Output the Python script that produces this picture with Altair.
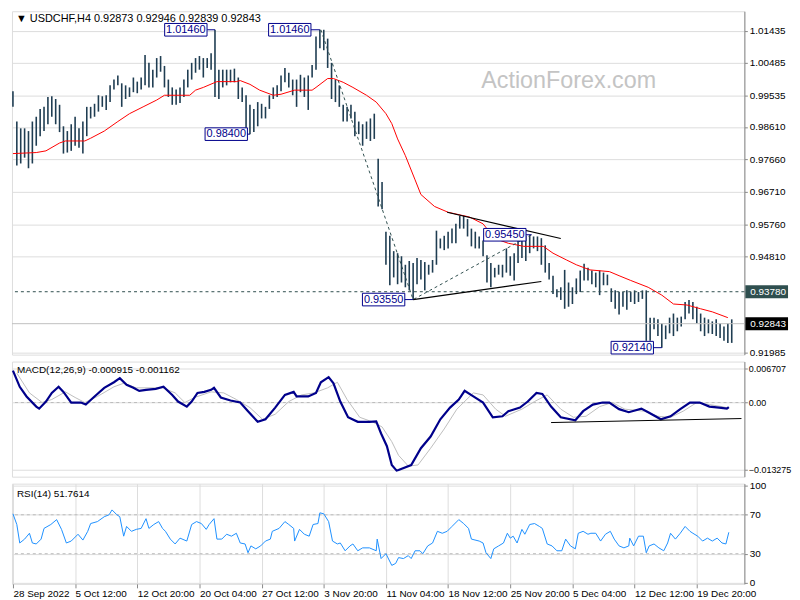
import altair as alt
import pandas as pd

# ---------------- data ----------------
# one column = two H4 bars; prices in 1e-4 units
HIGH = [9966, 9877, 9857, 9857, 9849, 9877, 9891, 9914, 9920, 9949,
        9951, 9943, 9926, 9863, 9849, 9869, 9891, 9857, 9877, 9920,
        9920, 9929, 9954, 9951, 9954, 9983, 10000, 10012, 9989, 9983,
        9977, 10006, 9994, 10006, 10072, 10049, 10029, 10063, 10069, 10040,
        10000, 9977, 9971, 9977, 10000, 10029, 10049, 10063, 10069, 10063,
        10063, 10077, 10146, 10029, 10029, 10029, 10029, 10032, 10006, 9977,
        9954, 9926, 9914, 9934, 9929, 9920, 9954, 9977, 9983, 10012,
        10034, 10020, 10000, 10000, 10014, 10006, 10012, 10043, 10126, 10146,
        10146, 10120, 10049, 10000, 9983, 9926, 9920, 9926, 9906, 9877,
        9869, 9877, 9886, 9900, 9768, 9700, 9554, 9542, 9497, 9491,
        9482, 9457, 9468, 9462, 9477, 9471, 9465, 9457, 9471, 9557,
        9534, 9542, 9554, 9563, 9577, 9600, 9600, 9591, 9563, 9554,
        9540, 9528, 9485, 9462, 9448, 9457, 9457, 9505, 9482, 9491,
        9528, 9542, 9542, 9545, 9540, 9540, 9535, 9514, 9462, 9425,
        9385, 9391, 9442, 9405, 9391, 9417, 9440, 9460, 9448, 9440,
        9434, 9440, 9434, 9428, 9388, 9382, 9377, 9377, 9382, 9377,
        9382, 9377, 9382, 9382, 9302, 9302, 9297, 9285, 9279, 9302,
        9314, 9302, 9305, 9348, 9354, 9348, 9334, 9314, 9302, 9297,
        9291, 9297, 9285, 9276, 9285, 9297]
LOW = [9920, 9748, 9754, 9771, 9740, 9754, 9806, 9834, 9849, 9869,
       9891, 9869, 9846, 9783, 9786, 9791, 9806, 9800, 9783, 9834,
       9886, 9891, 9906, 9920, 9911, 9934, 9971, 9983, 9920, 9943,
       9949, 9963, 9960, 9971, 9983, 9977, 9977, 10006, 10023, 9977,
       9949, 9926, 9926, 9931, 9949, 9977, 10000, 10020, 10029, 10006,
       10034, 10029, 9949, 9943, 9977, 9983, 9992, 9992, 9943, 9934,
       9857, 9840, 9846, 9863, 9886, 9886, 9914, 9943, 9949, 9966,
       9992, 9977, 9954, 9920, 9963, 9949, 9911, 10006, 10029, 10092,
       10086, 10034, 9943, 9934, 9920, 9877, 9877, 9886, 9834, 9840,
       9806, 9826, 9820, 9826, 9628, 9620, 9457, 9397, 9420, 9400,
       9405, 9391, 9382, 9355, 9400, 9414, 9382, 9428, 9434, 9457,
       9505, 9500, 9505, 9520, 9520, 9563, 9563, 9540, 9511, 9505,
       9505, 9482, 9405, 9391, 9420, 9428, 9420, 9434, 9425, 9411,
       9462, 9477, 9468, 9491, 9505, 9497, 9457, 9434, 9414, 9371,
       9362, 9354, 9328, 9334, 9342, 9371, 9377, 9411, 9411, 9400,
       9391, 9368, 9397, 9397, 9348, 9328, 9311, 9334, 9325, 9348,
       9342, 9348, 9357, 9234, 9234, 9268, 9248, 9214, 9239, 9256,
       9248, 9262, 9276, 9297, 9314, 9297, 9285, 9262, 9248, 9256,
       9254, 9248, 9242, 9234, 9228, 9228]

SMA_COL = [0, 6, 8.5, 12, 13.5, 18.5, 20, 23.5, 27, 30,
           33.5, 37, 39, 45.5, 47, 49, 52.5, 57.5, 58.5, 61,
           63.5, 67, 69, 72.5, 77, 78, 81, 82.5, 85, 87.5,
           91, 93.5, 96, 97.5, 99, 101, 103.5, 105, 108.5, 112,
           117.5, 121, 124, 127.5, 131.5, 136.5, 139, 142.5, 145, 148.5,
           153.5, 156, 159, 163.5, 167, 170, 173.5, 177, 180, 184]
SMA = [9783, 9786, 9791, 9814, 9820, 9820, 9828, 9849, 9877, 9900,
       9920, 9940, 9954, 9954, 9969, 9977, 9994, 9994, 9997, 9986,
       9969, 9954, 9957, 9969, 9969, 9977, 10003, 10003, 9992, 9977,
       9954, 9934, 9900, 9871, 9826, 9777, 9706, 9663, 9628, 9611,
       9597, 9577, 9534, 9520, 9511, 9511, 9491, 9471, 9457, 9442,
       9437, 9425, 9411, 9391, 9368, 9342, 9339, 9328, 9319, 9302]

# MACD values in 1e-4 units
MACD_COL = [0, 1.75, 3.5, 6, 6.75, 8.5, 10, 11.75, 13, 15,
            17.5, 18.75, 21, 23.5, 26, 27.5, 29.25, 31, 32.5, 34.25,
            36.75, 38.75, 41, 42.5, 44.75, 46, 47.5, 49.25, 51, 51.75,
            53.5, 56, 58.5, 60.5, 63, 65, 67.5, 70, 72.25, 73,
            76, 78, 79.25, 81.25, 82.5, 84.25, 86.25, 88.75, 91.75, 93.5,
            94.75, 96.25, 97.5, 98.75, 99.25, 102.5, 105, 107.5, 110, 112.5,
            114.75, 116.25, 118.5, 121, 123.5, 126, 127.5, 130.5, 132.5, 134.75,
            136.25, 138.5, 141, 144.75, 146.75, 149.25, 151.75, 153.5, 156, 158.5,
            161.75, 163.5, 166.75, 169.25, 171.75, 174.25, 176.75, 179.25, 181.75, 183.75,
            184.25]
MACD = [63, 31, 12, -8, -12, 2, 19, 31, 21, 0,
        0, -4, 12, 29, 40, 48, 35, 29, 23, 25,
        27, 31, 15, 2, -8, 2, 19, 21, 25, 29,
        10, 4, 0, -17, -38, -33, -10, 15, 21, 12,
        12, 19, 40, 50, 38, 2, -29, -38, -38, -37,
        -61, -86, -123, -134, -133, -123, -90, -67, -33, -10,
        6, 23, 12, 0, -29, -27, -17, -10, 2, 19,
        17, -8, -29, -35, -17, -4, 0, 0, -13, -19,
        -12, -19, -33, -27, -13, 0, 0, -8, -10, -12,
        -9]
SIG_COL = [1, 4.25, 7.5, 10, 13.5, 16, 18.5, 21.75, 26, 28.5,
           31.75, 38.5, 41.75, 44.25, 46.75, 51, 54.25, 57.5, 61, 64.25,
           67.5, 71, 74.25, 77.5, 81, 83.5, 86, 89.25, 92.5, 95,
           97.5, 99.25, 101.75, 104.25, 107.5, 111, 114.25, 118.5, 121, 124.25,
           126.75, 131, 134.25, 137.5, 141, 144.25, 147.5, 151, 154.25, 157.5,
           162.5, 166, 169.25, 172.5, 176, 179.25, 182.5, 184.25]
SIG = [58, 19, 0, 6, 21, 10, 0, 12, 31, 38,
       29, 29, 19, 0, 10, 21, 19, 6, -10, -33,
       -23, 2, 15, 19, 29, 40, 6, -29, -38, -48,
       -77, -104, -125, -123, -90, -52, -13, 19, 15, -13,
       -27, -13, 2, 15, -13, -29, -27, -8, 0, -13,
       -17, -27, -29, -17, 0, -4, -8, -11]

RSI_POINTS = [(0, 71), (1, 60), (1.75, 41), (3, 45), (4.25, 51), (5, 41), (6, 40), (7.25, 45), (8, 56), (9.75, 60),
              (11.25, 65), (12.5, 55), (13.75, 41), (15, 43), (16.75, 50), (18, 44), (19.25, 53), (20, 61), (21.75, 63),
              (23.5, 68), (24.75, 70), (25.5, 75), (26.75, 70), (27.5, 68), (28.5, 48), (29.25, 58), (30.5, 53),
              (31.75, 55), (33, 56), (34.25, 66), (35, 56), (36.25, 60), (37.5, 63), (38.5, 56), (39.25, 53),
              (40.5, 45), (41.75, 40), (43, 46), (44.75, 43), (46, 60), (47.25, 63), (48.5, 61), (49.75, 55),
              (50.5, 60), (51.75, 66), (52.5, 45), (53.75, 45), (55, 50), (56.25, 48), (57.5, 51), (58.5, 41),
              (59.75, 40), (60.5, 31), (61.25, 38), (62.5, 35), (63.75, 38), (65, 43), (66.25, 45), (66.75, 53),
              (68.5, 56), (70, 63), (71, 60), (72.25, 56), (72.5, 43), (73.75, 55), (75, 50), (76.25, 48),
              (77.25, 60), (78.5, 61), (79, 72), (80, 71), (81.25, 63), (82.25, 43), (83.5, 40), (84.25, 41),
              (85.5, 33), (86.75, 38), (87.5, 40), (88.75, 33), (90, 36), (91.75, 36), (93.5, 33), (93.75, 45),
              (94.75, 25), (96, 30), (97.5, 18), (98.5, 20), (99.25, 26), (100.5, 25), (101.75, 28), (102.5, 25),
              (103.5, 33), (104.75, 33), (105.5, 30), (106.75, 38), (108, 41), (109.25, 53), (110.5, 51),
              (111.75, 53), (113, 58), (114.75, 65), (116, 61), (117.25, 56), (118, 45), (120, 43), (121, 41),
              (121.75, 31), (123, 25), (123.75, 35), (125, 38), (126.25, 41), (127.25, 51), (128, 46), (128.75, 48),
              (129.75, 41), (131, 55), (131.75, 50), (133, 60), (134.25, 61), (135.5, 58), (136.25, 56),
              (137.5, 40), (138.75, 38), (140, 33), (141.25, 33), (142.25, 45), (143.5, 38), (144.75, 35),
              (145.5, 51), (146.75, 53), (148, 50), (148.75, 51), (150, 51), (151.25, 43), (152.5, 50),
              (153.75, 53), (154.75, 45), (156, 38), (157.25, 36), (158.5, 38), (158.75, 46), (159.75, 38),
              (161, 48), (162.25, 48), (163, 31), (163.75, 38), (165, 40), (166.25, 36), (167.5, 33), (168.5, 41),
              (169.25, 51), (170.5, 45), (171.75, 51), (173, 58), (174.25, 53), (175, 51), (176.25, 48),
              (177.5, 43), (178.75, 46), (180, 43), (181.25, 46), (182.5, 41), (183.5, 40), (184.25, 52)]

DATE_TICKS = [0, 16, 32, 48, 64, 80, 96, 112, 128, 144, 160, 176]
DATE_LABELS = ["28 Sep 2022", "5 Oct 12:00", "12 Oct 20:00", "20 Oct 04:00", "27 Oct 12:00",
               "3 Nov 20:00", "11 Nov 04:00", "18 Nov 12:00", "25 Nov 20:00", "5 Dec 04:00",
               "12 Dec 12:00", "19 Dec 20:00"]
PRICE_TICKS = [1.01435, 1.00485, 0.99535, 0.98610, 0.97660, 0.96710, 0.95760, 0.94810, 0.91985]
MACD_TICKS = [0.006707, 0.0, -0.013275]
RSI_TICKS = [0, 30, 70, 100]

# annotations: text, box centre column, value, connector start col, connector end col
ANNOTATIONS = [("1.01460", 44.5, 1.0146, 50, 52),
               ("1.01460", 71.25, 1.0146, 76.6, 79),
               ("0.98400", 54.9, 0.9840, 60.3, 61),
               ("0.93550", 95.4, 0.9355, 100.8, 103),
               ("0.95450", 126.6, 0.9545, 132, 133.5),
               ("0.92140", 159.4, 0.9214, 164.8, 167)]
SUPPORT_LEVEL = 0.9378
LAST_PRICE = 0.92843
ZIGZAG = [(79.25, 1.0146), (103, 0.9355), (133.5, 0.9545)]
TRIANGLE = [("top", 111.75, 0.9611), ("top", 141, 0.9534),
            ("bottom", 103, 0.9355), ("bottom", 136, 0.9408)]
MACD_SUPPORT = [(138.5, -0.00394), (187.5, -0.00315)]

TITLE = "\u25BC USDCHF,H4  0.92873 0.92946 0.92839 0.92843"
MACD_TITLE = "MACD(12,26,9) -0.000915 -0.001162"
RSI_TITLE = "RSI(14) 51.7614"
WATERMARK = "ActionForex.com"

# ---------------- styling ----------------
W = 738
H1, H2, H3 = 346, 116, 101
FONT = "Liberation Sans"
BAR = "#1f3d52"
NAVY = "#00008B"
XS = alt.Scale(domain=[-0.25, 188.25], nice=False, zero=False)
YP = alt.Scale(domain=[0.91936, 1.02003], nice=False, zero=False)
YM = alt.Scale(domain=[-0.0146, 0.00807], nice=False, zero=False)
YR = alt.Scale(domain=[-1, 102], nice=False, zero=False)

price_axis = alt.Axis(orient="right", values=PRICE_TICKS, format=".5f", title=None,
                      labelFontSize=10, tickSize=3, labelPadding=2)
macd_axis = alt.Axis(orient="right", values=MACD_TICKS, title=None, labelFontSize=9,
                     tickSize=3, labelPadding=1,
                     labelExpr="datum.value == 0 ? '0.00' : format(datum.value, '.6f')")
rsi_axis = alt.Axis(orient="right", values=RSI_TICKS, format="d", title=None,
                    labelFontSize=10, tickSize=3, labelPadding=2)


def YPa(field):
    return alt.Y(field, scale=YP, axis=price_axis)


def XN(field):
    return alt.X(field, scale=XS, axis=None)


# ---------------- price panel ----------------
pdf = pd.DataFrame({"col": list(range(len(HIGH))),
                    "hi": [h / 1e4 for h in HIGH],
                    "lo": [l / 1e4 for l in LOW]})
bars = alt.Chart(pdf).mark_rule(color=BAR, strokeWidth=1.6).encode(
    x=XN("col:Q"), y=YPa("lo:Q"), y2="hi:Q")

sdf = pd.DataFrame({"col": SMA_COL, "v": [s / 1e4 for s in SMA]})
sma = alt.Chart(sdf).mark_line(color="#FF0000", strokeWidth=1).encode(x=XN("col:Q"), y=YPa("v:Q"))

sup = alt.Chart(pd.DataFrame({"v": [SUPPORT_LEVEL]})).mark_rule(
    color="#2F4F4F", strokeDash=[3, 3], strokeWidth=1).encode(y=YPa("v:Q"))
lastp = alt.Chart(pd.DataFrame({"v": [LAST_PRICE]})).mark_rule(
    color="#C0C0C0", strokeWidth=1).encode(y=YPa("v:Q"))

zz = pd.DataFrame({"col": [p[0] for p in ZIGZAG], "v": [p[1] for p in ZIGZAG],
                   "o": list(range(len(ZIGZAG)))})
zig = alt.Chart(zz).mark_line(color="#2F4F4F", strokeDash=[3, 3], strokeWidth=1).encode(
    x=XN("col:Q"), y=YPa("v:Q"), order="o:Q")

tdf = pd.DataFrame({"seg": [t[0] for t in TRIANGLE], "col": [t[1] for t in TRIANGLE],
                    "v": [t[2] for t in TRIANGLE]})
tri = alt.Chart(tdf).mark_line(color="black", strokeWidth=1.2).encode(
    x=XN("col:Q"), y=YPa("v:Q"), detail="seg:N")

adf = pd.DataFrame({"t": [a[0] for a in ANNOTATIONS], "c": [a[1] for a in ANNOTATIONS],
                    "v": [a[2] for a in ANNOTATIONS], "ca": [a[3] for a in ANNOTATIONS],
                    "cb": [a[4] for a in ANNOTATIONS]})
adf["x0"] = adf["c"] - 5.45
adf["x1"] = adf["c"] + 5.45
adf["y0"] = adf["v"] + 0.00185
adf["y1"] = adf["v"] - 0.00185
conn = alt.Chart(adf).mark_rule(color=NAVY, strokeWidth=1).encode(
    x=XN("ca:Q"), x2="cb:Q", y=YPa("v:Q"))
boxes = alt.Chart(adf).mark_rect(fill="white", stroke=NAVY, strokeWidth=1).encode(
    x=XN("x0:Q"), x2="x1:Q", y=YPa("y0:Q"), y2="y1:Q")
btxt = alt.Chart(adf).mark_text(color=NAVY, fontSize=11, font=FONT, baseline="middle").encode(
    x=XN("c:Q"), y=YPa("v:Q"), text="t:N")

rl = pd.DataFrame({"v": [SUPPORT_LEVEL, LAST_PRICE], "t": ["0.93780", "0.92843"],
                   "bg": ["#2F4F4F", "#000000"]})
rl["y0"] = rl["v"] + 0.0019
rl["y1"] = rl["v"] - 0.0019
rbox = alt.Chart(rl).mark_rect().encode(
    x=alt.value(W + 1), x2=alt.value(W + 44),
    y=YPa("y0:Q"), y2="y1:Q",
    fill=alt.Fill("bg:N", scale=None))
rtxt = alt.Chart(rl).mark_text(color="white", fontSize=10, font=FONT, align="left",
                               baseline="middle").encode(
    x=alt.value(W + 6), y=YPa("v:Q"), text="t:N")

wm = alt.Chart(pd.DataFrame({"t": [WATERMARK]})).mark_text(
    fontSize=23.5, font=FONT, color="#C4C4C4", align="center", baseline="alphabetic").encode(
    x=alt.value(561), y=alt.value(77), text="t:N")
ttl = alt.Chart(pd.DataFrame({"t": [TITLE]})).mark_text(
    fontSize=11, font=FONT, color="black", align="left", baseline="alphabetic").encode(
    x=alt.value(4), y=alt.value(11), text="t:N")

price = alt.layer(bars, sma, sup, lastp, zig, tri, conn, boxes, btxt, rbox, rtxt, wm, ttl).properties(
    width=W, height=H1)

# ---------------- MACD panel ----------------
mdf = pd.DataFrame({"col": MACD_COL, "v": [m / 1e4 for m in MACD]})
gdf = pd.DataFrame({"col": SIG_COL, "v": [s / 1e4 for s in SIG]})
zero = alt.Chart(pd.DataFrame({"v": [0.0]})).mark_rule(
    color="#BBBBBB", strokeDash=[3, 3], strokeWidth=1).encode(
    y=alt.Y("v:Q", scale=YM, axis=macd_axis))
sig = alt.Chart(gdf).mark_line(color="#BDBDBD", strokeWidth=1).encode(
    x=XN("col:Q"), y=alt.Y("v:Q", scale=YM, axis=macd_axis))
macd = alt.Chart(mdf).mark_line(color=NAVY, strokeWidth=2.2).encode(
    x=XN("col:Q"), y=alt.Y("v:Q", scale=YM, axis=macd_axis))
msdf = pd.DataFrame({"col": [p[0] for p in MACD_SUPPORT], "v": [p[1] for p in MACD_SUPPORT]})
msup = alt.Chart(msdf).mark_line(color="black", strokeWidth=1).encode(
    x=XN("col:Q"), y=alt.Y("v:Q", scale=YM, axis=macd_axis))
mttl = alt.Chart(pd.DataFrame({"t": [MACD_TITLE]})).mark_text(
    fontSize=10, font=FONT, color="black", align="left", baseline="alphabetic").encode(
    x=alt.value(5), y=alt.value(12), text="t:N")
macd_panel = alt.layer(zero, sig, macd, msup, mttl).properties(width=W, height=H2)

# ---------------- RSI panel ----------------
rdf = pd.DataFrame({"col": [p[0] for p in RSI_POINTS], "v": [p[1] for p in RSI_POINTS]})
label_expr = "[" + ",".join("'%s'" % s for s in DATE_LABELS) + "][round(datum.value / 16)]"
x_axis = alt.Axis(values=DATE_TICKS, labelExpr=label_expr, labelAlign="left", title=None,
                  labelFontSize=10, tickSize=4, labelPadding=1, labelFlush=False,
                  labelOverlap=False, domain=False)
levels = alt.Chart(pd.DataFrame({"v": [30, 70]})).mark_rule(
    color="#BBBBBB", strokeDash=[3, 3], strokeWidth=1).encode(
    y=alt.Y("v:Q", scale=YR, axis=rsi_axis))
rsi = alt.Chart(rdf).mark_line(color="#1E90FF", strokeWidth=1).encode(
    x=alt.X("col:Q", scale=XS, axis=x_axis), y=alt.Y("v:Q", scale=YR, axis=rsi_axis))
rttl = alt.Chart(pd.DataFrame({"t": [RSI_TITLE]})).mark_text(
    fontSize=10, font=FONT, color="black", align="left", baseline="alphabetic").encode(
    x=alt.value(5), y=alt.value(13), text="t:N")
rsi_panel = alt.layer(levels, rsi, rttl).properties(width=W, height=H3)

chart = alt.vconcat(price, macd_panel, rsi_panel, spacing=2,
                    padding={"left": 0, "right": 0, "top": 0, "bottom": 0}).configure_view(
    stroke="black", strokeWidth=1).configure_axis(
    labelFont=FONT, labelColor="black", tickColor="black", grid=False, domain=False).configure(
    background="white")

chart.save("out.html", embed_options={"renderer": "svg", "actions": False})
